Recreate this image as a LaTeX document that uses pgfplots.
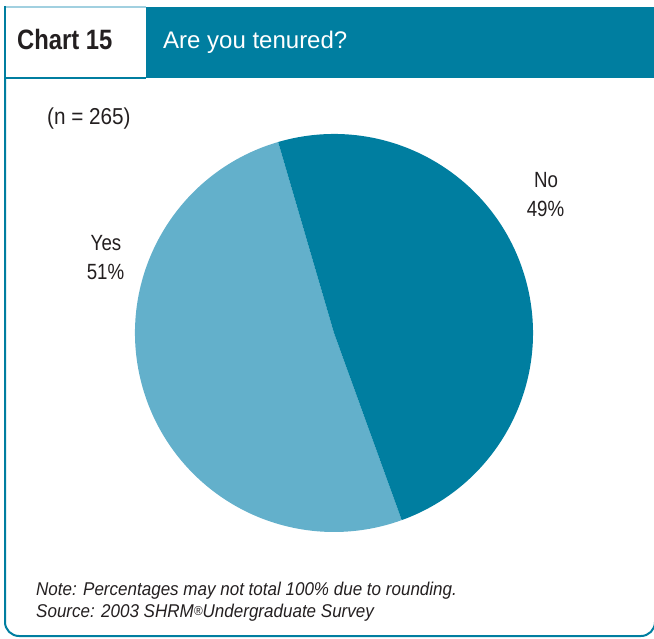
\documentclass[border=0pt]{standalone}
\usepackage{fontspec}
\setmainfont{Liberation Sans}
\newfontfamily\cond{Liberation Sans}[FakeStretch=0.85]
\newfontfamily\condb{Liberation Sans}[FakeStretch=0.9]
\newfontfamily\notefont{Liberation Sans}[FakeStretch=0.92]
\usepackage{pgfplots}
\pgfplotsset{compat=1.18}
\usepackage{pgfplotstable}
\definecolor{tealdark}{RGB}{0,126,160}
\definecolor{teallight}{RGB}{99,176,203}
\definecolor{txt}{RGB}{35,31,32}

\pgfplotstableread{
label value
No 49
Yes 51
}\piedata

\begin{document}
\begin{tikzpicture}[x=1pt,y=1pt]
\pgfplotstablegetelem{0}{value}\of\piedata \let\noval\pgfplotsretval
\pgfplotstablegetelem{1}{value}\of\piedata \let\yesval\pgfplotsretval
\pgfmathsetmacro\startang{106.3}
\pgfmathsetmacro\noend{\startang-3.6*\noval}
\pgfmathsetmacro\yesend{\startang+3.6*\yesval}
\useasboundingbox (0,0) rectangle (654,638);
% outer frame
\draw[tealdark, line width=2pt] (5,560) -- (5,16) arc[start angle=180,end angle=270,radius=14] -- (641,2) arc[start angle=270,end angle=360,radius=14] -- (655,560);
% header
\fill[tealdark] (146,560) rectangle (660,631);
\draw[teallight!60, line width=1.5pt] (5,631) -- (146,631);
\draw[tealdark, line width=2pt] (5,632) -- (5,560) -- (146,560);
\node[anchor=base west, inner sep=0, text=txt, font=\cond\bfseries\fontsize{28}{28}\selectfont] at (17,588) {Chart 15};
\node[anchor=base west, inner sep=0, text=white, font=\fontsize{24}{24}\selectfont] at (163,589) {Are you tenured?};
\node[anchor=base west, inner sep=0, text=txt, font=\condb\fontsize{23}{23}\selectfont] at (47,513) {(n = 265)};
% pie
\begin{axis}[at={(334pt,305pt)}, anchor=origin, x=199pt, y=199pt,
  xmin=-1, xmax=1, ymin=-1, ymax=1, hide axis, clip=false]
\fill[teallight] (axis cs:0,0) -- ++(\startang:199pt) arc[start angle=\startang, end angle=\yesend, radius=199pt] -- cycle;
\fill[tealdark] (axis cs:0,0) -- ++(\startang:199pt) arc[start angle=\startang, end angle=\noend, radius=199pt] -- cycle;
\end{axis}
% labels
\node[anchor=base, inner sep=0, text=txt, font=\cond\fontsize{22}{22}\selectfont] at (546,450) {No};
\node[anchor=base, inner sep=0, text=txt, font=\cond\fontsize{22}{22}\selectfont] at (545.5,421) {49\%};
\node[anchor=base, inner sep=0, text=txt, font=\cond\fontsize{22}{22}\selectfont] at (106,387) {Yes};
\node[anchor=base, inner sep=0, text=txt, font=\cond\fontsize{22}{22}\selectfont] at (105.5,358) {51\%};
% notes
\node[anchor=base west, inner sep=0, text=txt, font=\notefont\itshape\fontsize{18.5}{18.5}\selectfont] at (36,42) {Note: Percentages may not total 100\% due to rounding.};
\node[anchor=base west, inner sep=0, text=txt, font=\notefont\itshape\fontsize{18.5}{18.5}\selectfont] at (36,20) {Source: 2003 SHRM\raisebox{2pt}{\fontsize{13}{13}\selectfont\textregistered}Undergraduate Survey};
\end{tikzpicture}
\end{document}
